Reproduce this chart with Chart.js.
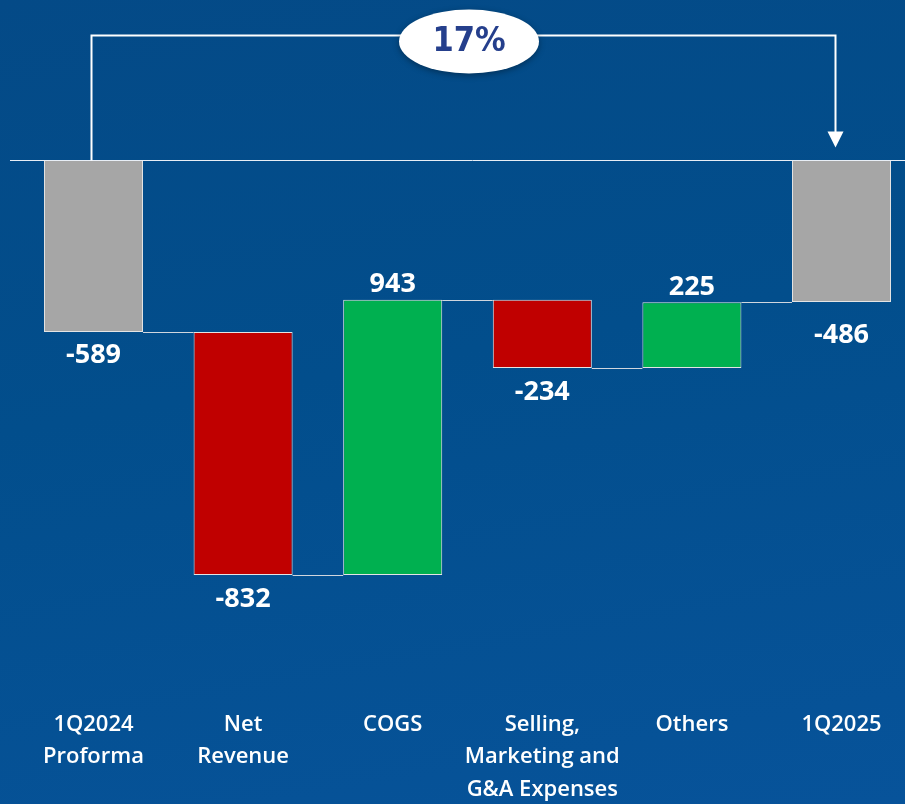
<!DOCTYPE html>
<html>
<head>
<meta charset="utf-8">
<script src="https://cdn.jsdelivr.net/npm/chart.js@4"></script>
<style>
  html, body { margin: 0; padding: 0; width: 905px; height: 804px; overflow: hidden; }
  body { background: linear-gradient(170deg, #044a87 0%, #024e8c 45%, #07539a 100%); }
  #wrap { position: absolute; left: 0; top: 0; width: 935px; height: 804px; }
</style>
</head>
<body>
<div id="wrap"><canvas id="c" width="935" height="804"></canvas></div>
<script>
const categories = [["1Q2024", "Proforma"], ["Net", "Revenue"], ["COGS"], ["Selling,", "Marketing and", "G&A Expenses"], ["Others"], ["1Q2025"]];
const values = [-589, -832, 943, -234, 225, -486];
const kinds = ["total", "delta", "delta", "delta", "delta", "total"];
const valueLabels = ["-589", "-832", "943", "-234", "225", "-486"];
const changeLabel = "17%";

const colors = { total: "#a6a6a6", up: "#00b050", down: "#c00000" };
const labelGap = [23, 24, 15, 24, 15, 33];

// build floating ranges
let cum = 0;
const ranges = [];
const barColors = [];
values.forEach((v, i) => {
  if (kinds[i] === "total") {
    ranges.push([0, v]);
    cum = v;
    barColors.push(colors.total);
  } else {
    ranges.push([cum, cum + v]);
    cum += v;
    barColors.push(v >= 0 ? colors.up : colors.down);
  }
});

const overlay = {
  id: "overlay",
  afterDatasetsDraw(chart) {
    const ctx = chart.ctx;
    const y = chart.scales.y;
    const meta = chart.getDatasetMeta(0);
    const bars = meta.data;
    ctx.save();
    // zero line
    const y0 = Math.round(y.getPixelForValue(0)) + 0.5;
    ctx.strokeStyle = "#e8eef6";
    ctx.lineWidth = 1;
    ctx.beginPath();
    ctx.moveTo(10, y0);
    ctx.lineTo(chart.width, y0);
    ctx.stroke();

    // connectors
    ctx.strokeStyle = "#d0d6de";
    for (let i = 0; i < bars.length - 1; i++) {
      const a = bars[i], b = bars[i + 1];
      const lvl = ranges[i][1];
      const py = Math.round(y.getPixelForValue(lvl)) + 0.5;
      ctx.beginPath();
      ctx.moveTo(a.x + a.width / 2, py);
      ctx.lineTo(b.x - b.width / 2, py);
      ctx.stroke();
    }

    // value labels
    ctx.fillStyle = "#ffffff";
    ctx.font = "bold 27px 'Open Sans', 'Noto Sans', sans-serif";
    ctx.textAlign = "center";
    ctx.textBaseline = "middle";
    bars.forEach((bar, i) => {
      const [s, e] = ranges[i];
      const lo = Math.min(s, e), hi = Math.max(s, e);
      const up = kinds[i] === "delta" && values[i] > 0;
      let py;
      if (up) py = y.getPixelForValue(hi) - labelGap[i];
      else py = y.getPixelForValue(lo) + labelGap[i];
      ctx.fillText(valueLabels[i], bar.x, py);
    });

    // bracket
    const xL = bars[0].x - 2;
    const xR = bars[bars.length - 1].x - 6;
    const yTop = Math.round(y0 - 126) + 0.5;
    const yTip = y0 - 13;
    ctx.strokeStyle = "#ffffff";
    ctx.lineWidth = 2;
    ctx.beginPath();
    ctx.moveTo(xL, y0);
    ctx.lineTo(xL, yTop);
    ctx.lineTo(xR, yTop);
    ctx.lineTo(xR, yTip - 14);
    ctx.stroke();
    ctx.fillStyle = "#ffffff";
    ctx.beginPath();
    ctx.moveTo(xR - 8, yTip - 16);
    ctx.lineTo(xR + 8, yTip - 16);
    ctx.lineTo(xR, yTip);
    ctx.closePath();
    ctx.fill();

    // bubble
    const cx = 469, cy = yTop + 6;
    ctx.shadowColor = "rgba(0,0,0,0.35)";
    ctx.shadowBlur = 6;
    ctx.shadowOffsetY = 2;
    ctx.beginPath();
    ctx.ellipse(cx, cy, 70, 32, 0, 0, Math.PI * 2);
    ctx.fillStyle = "#ffffff";
    ctx.fill();
    ctx.shadowColor = "transparent";
    ctx.fillStyle = "#253f8c";
    ctx.font = "bold 34px 'DejaVu Sans Condensed', 'DejaVu Sans', sans-serif";
    ctx.textAlign = "center";
    ctx.textBaseline = "middle";
    ctx.fillText(changeLabel, cx, cy + 1);
    ctx.restore();
  }
};

new Chart(document.getElementById("c"), {
  type: "bar",
  data: {
    labels: categories,
    datasets: [{
      data: ranges,
      backgroundColor: barColors,
      borderColor: "#e4e4e4",
      borderWidth: 1,
      borderSkipped: false,
      barPercentage: 0.662,
      categoryPercentage: 1.0
    }]
  },
  options: {
    responsive: false,
    animation: false,
    layout: { padding: { left: 18.7, right: 18.7, top: 14, bottom: 0 } },
    plugins: { legend: { display: false }, tooltip: { enabled: false } },
    scales: {
      x: {
        grid: { display: false, drawTicks: false },
        border: { display: false },
        afterFit(scale) { scale.height = 89; },
        ticks: {
          color: "#ffffff",
          padding: -6,
          maxRotation: 0,
          autoSkip: false,
          font: { family: "'Open Sans', Lato, sans-serif", size: 22, weight: "600", lineHeight: 1.46 }
        }
      },
      y: {
        display: false,
        min: -1900,
        max: 500
      }
    }
  },
  plugins: [overlay]
});
</script>
</body>
</html>
